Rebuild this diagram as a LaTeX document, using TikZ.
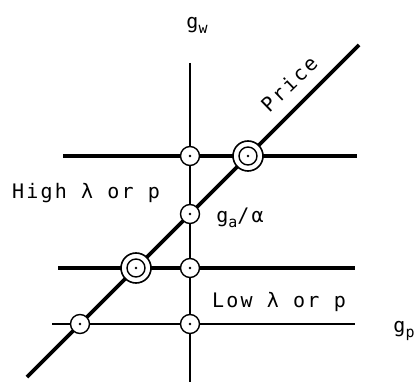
\documentclass[tikz,border=0pt]{standalone}
\usepackage{fontspec}
\newfontfamily\plotfont[LetterSpace=11]{DejaVu Sans Mono}
\newcommand{\lowsub}[1]{\raisebox{-0.45ex}{\fontsize{15}{17}\selectfont #1}}
\begin{document}
\begin{tikzpicture}[x=1pt,y=1pt,
  every node/.style={font=\plotfont\fontsize{20}{22}\selectfont},
  thinline/.style={line width=1.4pt},
  thickline/.style={line width=3.6pt},
  ring/.style={circle,draw,fill=white,line width=1.4pt,minimum size=19pt,inner sep=0pt,
    path picture={\fill[black] (path picture bounding box.center) circle (1.3pt);}},
  bigring/.style={circle,draw,fill=white,line width=1.6pt,minimum size=30pt,inner sep=0pt,
    path picture={\draw[black,line width=1.4pt] (path picture bounding box.center) circle (9pt);
      \fill[black] (path picture bounding box.center) circle (1.3pt);}}]
\useasboundingbox (0,0) rectangle (419,385);
% axes and lines
\coordinate (vt) at (190,322);
\coordinate (vb) at (190,3);
\coordinate (dl) at (27,8);
\coordinate (dr) at (359,340);
\coordinate (hil) at (63,229);
\coordinate (hir) at (357,229);
\coordinate (mil) at (58,117);
\coordinate (mir) at (355,117);
\coordinate (lol) at (52,61);
\coordinate (lor) at (355,61);
\draw[thinline] (vt) -- (vb);
\draw[thinline] (lol) -- (lor);
\draw[thickline] (hil) -- (hir);
\draw[thickline] (mil) -- (mir);
\draw[thickline] (dl) -- (dr);
% crossings
\foreach \x/\y/\name in {190/229/c1, 190/171/c2, 190/117/c3, 190/61/c4, 80/61/c5}{
  \node[ring] (\name) at (\x,\y) {};
}
\foreach \x/\y/\name in {248/229/d1, 136/117/d2}{
  \node[bigring] (\name) at (\x,\y) {};
}
% labels
\node (gw) at (197,360) {g\lowsub{w}};
\node[rotate=44] (price) at (289,301) {Price};
\node (high) at (86,192) {High λ or p};
\node (ga) at (240,167) {g\lowsub{a}/α};
\node (low) at (279,83) {Low λ or p};
\node (gp) at (404,54) {g\lowsub{p}};
\end{tikzpicture}
\end{document}
